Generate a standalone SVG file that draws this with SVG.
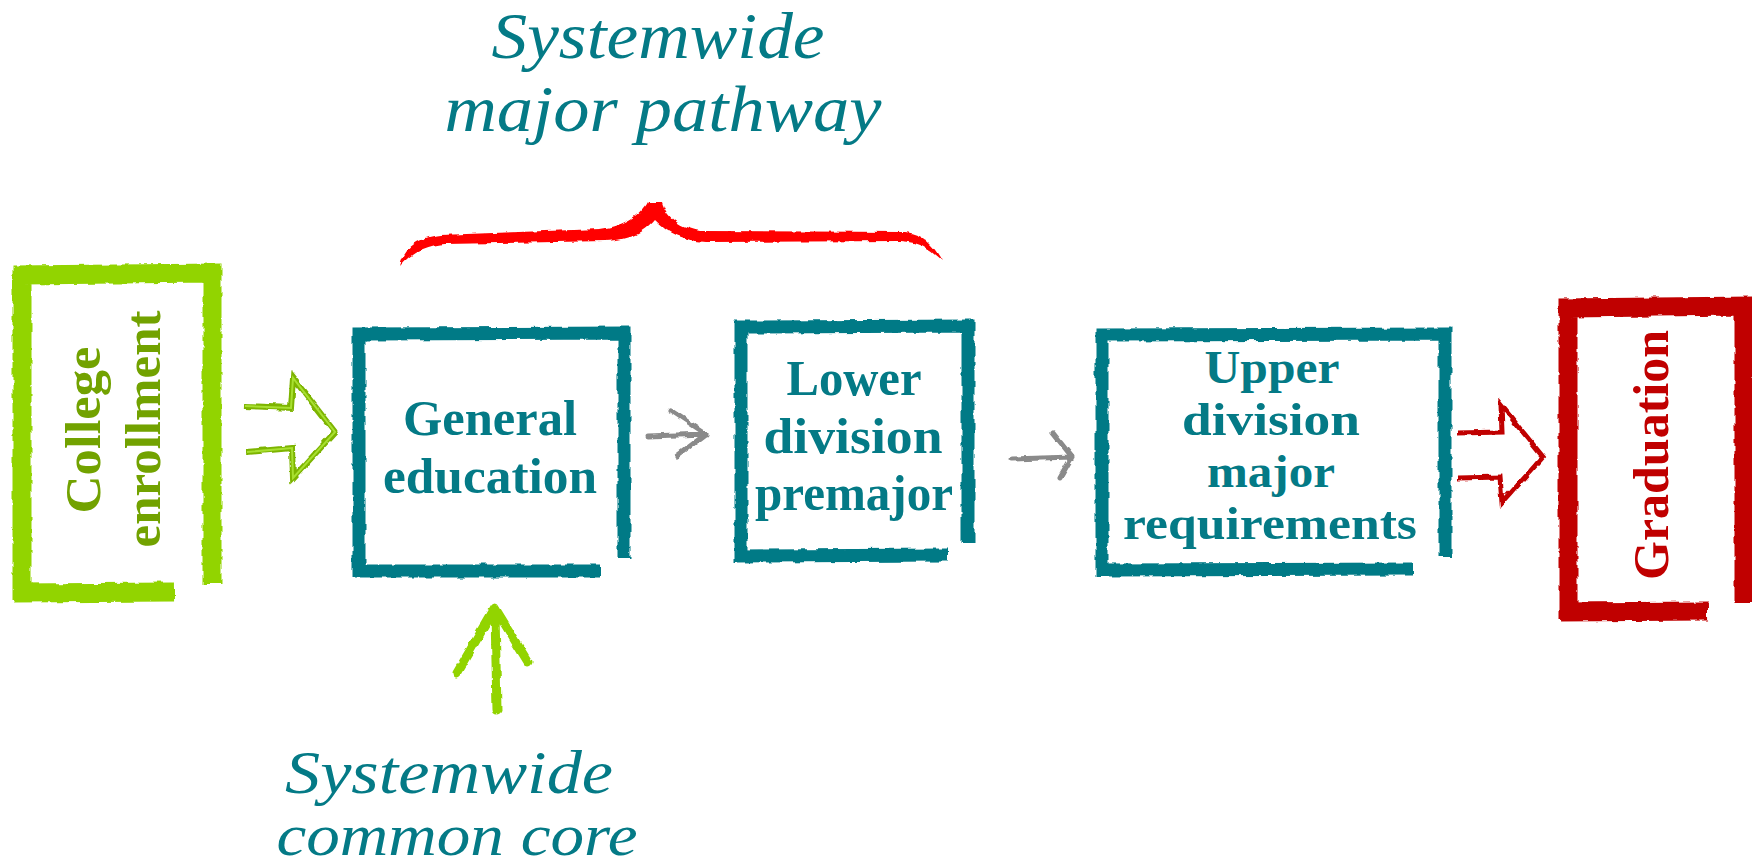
<svg xmlns="http://www.w3.org/2000/svg" width="1752" height="868" viewBox="0 0 1752 868">
<defs>
<filter id="rough" x="-10%" y="-10%" width="120%" height="120%">
<feTurbulence type="fractalNoise" baseFrequency="0.09" numOctaves="2" seed="3" result="n"/>
<feDisplacementMap in="SourceGraphic" in2="n" scale="5" xChannelSelector="R" yChannelSelector="G"/>
</filter>
<style>
.lbl{font-family:"Liberation Serif","DejaVu Serif",serif;font-weight:bold;font-size:50px;text-anchor:middle}
.sm{font-size:46px}
.teal{fill:#047A86}
.title{font-family:"Liberation Serif","DejaVu Serif",serif;font-style:italic;font-size:65px;text-anchor:middle;fill:#047A86}
.box{fill:none;stroke-linejoin:miter;filter:url(#rough)}
.tealbox{stroke:#047A86;stroke-width:13}
.gray{fill:none;stroke:#8A8A8A;stroke-width:5;stroke-linecap:round;stroke-linejoin:round;filter:url(#rough)}
</style>
</defs>
<rect width="1752" height="868" fill="#fff"/>

<g id="title-top">
<text class="title" x="658" y="58" textLength="333" lengthAdjust="spacingAndGlyphs">Systemwide</text>
<text class="title" x="663" y="131" textLength="437" lengthAdjust="spacingAndGlyphs">major pathway</text>
</g>

<g id="brace">
<path fill="#FF0000" filter="url(#rough)" d="M400,266 C404,250 415,238 440,235 L600,229 C625,226 640,215 647,202 L662,202 C666,215 675,226 700,231 L905,232 C925,234 935,248 942,261 C930,250 920,242 900,241 L705,242 C680,240 665,230 655,220 C645,232 630,240 605,241 L445,244 C425,245 410,254 400,266 Z"/>
</g>

<g id="college-enrollment">
<g class="box" stroke="#92D400" stroke-width="19">
<path d="M22,601 L22,275 L212,273 L212,584"/>
<path d="M14,593 L174,592"/>
</g>
<text class="lbl" fill="#72A200" transform="translate(100,430) rotate(-90)" textLength="167" lengthAdjust="spacingAndGlyphs">College</text>
<text class="lbl" fill="#72A200" transform="translate(160,429) rotate(-90)" textLength="237" lengthAdjust="spacingAndGlyphs">enrollment</text>
</g>

<g id="general-education">
<g class="box tealbox">
<path d="M359,577 L359,334 L624,333 L624,558"/>
<path d="M355,571 L600,571"/>
</g>
<text class="lbl teal" x="490" y="435" textLength="174" lengthAdjust="spacingAndGlyphs">General</text>
<text class="lbl teal" x="490" y="493" textLength="214" lengthAdjust="spacingAndGlyphs">education</text>
</g>

<g id="lower-division">
<g class="box tealbox" stroke-width="12">
<path d="M741,562 L741,327 L968,326 L968,543"/>
<path d="M738,556 L948,555"/>
</g>
<text class="lbl teal" x="854" y="395" textLength="135" lengthAdjust="spacingAndGlyphs">Lower</text>
<text class="lbl teal" x="853" y="453" textLength="179" lengthAdjust="spacingAndGlyphs">division</text>
<text class="lbl teal" x="854" y="510" textLength="198" lengthAdjust="spacingAndGlyphs">premajor</text>
</g>

<g id="upper-division">
<g class="box tealbox">
<path d="M1102,577 L1102,335 L1445,334 L1445,557"/>
<path d="M1098,570 L1413,569"/>
</g>
<text class="lbl sm teal" x="1272" y="383" textLength="135" lengthAdjust="spacingAndGlyphs">Upper</text>
<text class="lbl sm teal" x="1271" y="435" textLength="178" lengthAdjust="spacingAndGlyphs">division</text>
<text class="lbl sm teal" x="1271" y="487" textLength="128" lengthAdjust="spacingAndGlyphs">major</text>
<text class="lbl sm teal" x="1270" y="539" textLength="294" lengthAdjust="spacingAndGlyphs">requirements</text>
</g>

<g id="graduation">
<g class="box" stroke="#C00000" stroke-width="19">
<path d="M1568,619 L1568,308 L1744,306 L1744,603"/>
<path d="M1560,612 L1708,611"/>
</g>
<text class="lbl" fill="#C00000" transform="translate(1668,455) rotate(-90)" textLength="250" lengthAdjust="spacingAndGlyphs">Graduation</text>
</g>

<g id="title-bottom">
<text class="title" x="449" y="793" style="font-size:62px" textLength="328" lengthAdjust="spacingAndGlyphs">Systemwide</text>
<text class="title" x="457" y="855" style="font-size:60px" textLength="361" lengthAdjust="spacingAndGlyphs">common core</text>
</g>

<g id="connectors">
<path fill="none" stroke="#7DB400" stroke-width="6" stroke-linejoin="miter" filter="url(#rough)" d="M245,406 L291,408 L293,378 L335,432 L293,478 L292,448 L247,452"/>
<path fill="none" stroke="#A8E030" stroke-width="2" d="M245,406 L291,408 L293,378 L335,432 L293,478 L292,448 L247,452"/>
<path class="gray" d="M648,436 L706,434 M670,410 L706,434 L677,456"/>
<path class="gray" d="M1012,459 L1072,457 M1053,433 L1072,457 L1060,478"/>
<path fill="none" stroke="#C00000" stroke-width="5" stroke-linejoin="miter" filter="url(#rough)" d="M1457,433 L1502,432 L1501,405 L1543,457 L1502,503 L1500,477 L1458,478"/>
<path fill="none" stroke="#92D400" stroke-width="9" stroke-linecap="round" stroke-linejoin="round" filter="url(#rough)" d="M497,710 L495,614 M457,673 L495,608 L528,662"/>
</g>
</svg>
